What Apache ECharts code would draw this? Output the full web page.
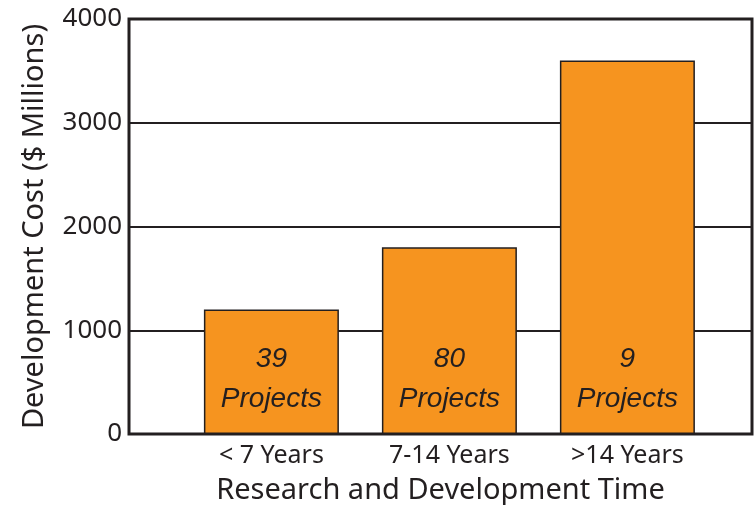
<!DOCTYPE html>
<html>
<head>
<meta charset="utf-8">
<script src="https://cdn.jsdelivr.net/npm/echarts@6/dist/echarts.min.js"></script>
<style>
  html, body { margin: 0; padding: 0; background: #fff; }
  #chart { width: 755px; height: 505px; }
</style>
</head>
<body>
<div id="chart"></div>
<script>
// data
var categories = ['< 7 Years', '7-14 Years', '>14 Years'];
var costs = [1200, 1800, 3600];
var projects = [39, 80, 9];
var catPos = [1, 2, 3];
var yTicks = [0, 1000, 2000, 3000, 4000];

var ink = '#231f20';
var orange = '#f6941f';

var barData = [];
for (var i = 0; i < costs.length; i++) {
  barData.push([catPos[i], costs[i]]);
}

var myChart = echarts.init(document.getElementById('chart'));
myChart.setOption({
  animation: false,
  grid: {
    left: 129, right: 3, top: 19, bottom: 71,
    outerBoundsMode: 'none',
    containLabel: false,
    show: true,
    borderColor: ink,
    borderWidth: 3,
    backgroundColor: '#fff'
  },
  xAxis: {
    type: 'value',
    min: 0.2,
    max: 3.7,
    name: 'Research and Development Time',
    nameLocation: 'middle',
    nameGap: 42,
    nameTextStyle: { fontFamily: 'Noto Sans', fontSize: 29, color: ink },
    axisLine: { show: false },
    axisTick: { show: false },
    splitLine: { show: false },
    axisLabel: {
      customValues: catPos,
      margin: 9,
      fontFamily: 'Noto Sans',
      fontSize: 25,
      color: ink,
      formatter: function (v) {
        var idx = catPos.indexOf(Math.round(v));
        return idx >= 0 ? categories[idx] : '';
      }
    }
  },
  yAxis: {
    type: 'value',
    min: 0,
    max: 4000,
    interval: 1000,
    name: 'Development Cost ($ Millions)',
    nameLocation: 'middle',
    nameGap: 80,
    nameTextStyle: { fontFamily: 'Noto Sans', fontSize: 29, color: ink },
    axisLine: { show: false },
    axisTick: { show: false },
    axisLabel: {
      margin: 7,
      fontFamily: 'Noto Sans',
      fontSize: 26,
      color: ink,
      formatter: function (v) { return yTicks.indexOf(v) >= 0 ? String(v) : ''; }
    },
    splitLine: { show: true, lineStyle: { color: ink, width: 2 } }
  },
  series: [
    {
      type: 'bar',
      data: barData,
      barWidth: 135,
      itemStyle: { color: orange, borderColor: ink, borderWidth: 1.5 },
      label: {
        show: true,
        position: 'insideBottom',
        distance: 15,
        fontFamily: 'Liberation Sans',
        fontStyle: 'italic',
        fontSize: 28,
        lineHeight: 40,
        color: ink,
        formatter: function (p) { return projects[p.dataIndex] + '\nProjects'; }
      }
    }
  ]
});
</script>
</body>
</html>
